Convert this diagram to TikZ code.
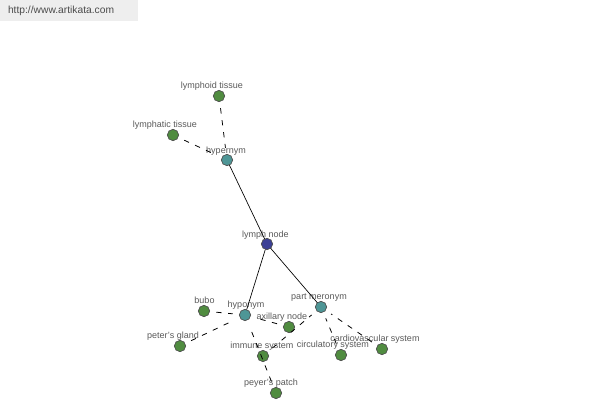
\documentclass[tikz,border=0pt]{standalone}
\usepackage{fontspec}
\setmainfont{Liberation Sans}
\begin{document}
\begin{tikzpicture}[x=0.75pt,y=-0.75pt,
  every node/.style={inner sep=0pt,outer sep=0pt},
  dot/.style={circle,minimum size=8.5pt,draw=black!70,line width=0.5pt},
  leaf/.style={dot,fill=leafc},
  rel/.style={dot,fill=relc},
  hub/.style={dot,fill=hubc},
  lbl/.style={anchor=base,font=\fontsize{6.75pt}{7pt}\selectfont,text=black!65},
  solidline/.style={draw=black,line width=0.5pt},
  dashline/.style={draw=black,line width=0.6pt,dash pattern=on 4pt off 5pt,shorten <=5pt,shorten >=5pt}]
\definecolor{leafc}{RGB}{80,140,64}
\definecolor{relc}{RGB}{78,150,150}
\definecolor{hubc}{RGB}{60,64,150}
\definecolor{headc}{RGB}{238,238,238}
\useasboundingbox (0,0) rectangle (600,400);
\fill[fill=headc] (0,0) rectangle (138,21);
\node[anchor=west,font=\fontsize{7.7pt}{8pt}\selectfont,text=black!70] (url) at (8,11) {http://www.artikata.com};

% nodes
\node[hub]  (ln)  at (267,244) {};
\node[rel]  (hyper) at (227,160) {};
\node[rel]  (hypo)  at (245,315) {};
\node[rel]  (pm)    at (321,307) {};
\node[leaf] (lyt)   at (219,96) {};
\node[leaf] (lat)   at (173,135) {};
\node[leaf] (bubo)  at (204,311) {};
\node[leaf] (pg)    at (180,346) {};
\node[leaf] (ax)    at (289,327) {};
\node[leaf] (imm)   at (263,356) {};
\node[leaf] (pp)    at (276,393) {};
\node[leaf] (circ)  at (341,355) {};
\node[leaf] (card)  at (382,349) {};

% labels
\node[lbl] (lln)   at (265.5,237) {lymph node};
\node[lbl] (lhyper) at (226,153) {hypernym};
\node[lbl] (lhypo)  at (246,307) {hyponym};
\node[lbl] (lpm)    at (319,299) {part meronym};
\node[lbl] (llyt)   at (212,88) {lymphoid tissue};
\node[lbl] (llat)   at (165,127) {lymphatic tissue};
\node[lbl] (lbubo)  at (204.5,303) {bubo};
\node[lbl] (lpg)    at (173,338) {peter's gland};
\node[lbl] (lax)    at (282,319) {axillary node};
\node[lbl] (limm)   at (262,348) {immune system};
\node[lbl] (lpp)    at (271,385) {peyer's patch};
\node[lbl] (lcirc)  at (333,347) {circulatory system};
\node[lbl] (lcard)  at (375,341) {cardiovascular system};

% edges
\draw[solidline] (hyper) -- (ln);
\draw[solidline] (ln) -- (hypo);
\draw[solidline] (ln) -- (pm);
\draw[dashline] (lyt) -- (hyper);
\draw[dashline] (lat) -- (hyper);
\draw[dashline] (bubo) -- (hypo);
\draw[dashline] (pg) -- (hypo);
\draw[dashline] (ax) -- (hypo);
\draw[dashline] (pp) -- (hypo);
\draw[dashline] (imm) -- (pm);
\draw[dashline] (circ) -- (pm);
\draw[dashline] (card) -- (pm);
\end{tikzpicture}
\end{document}
